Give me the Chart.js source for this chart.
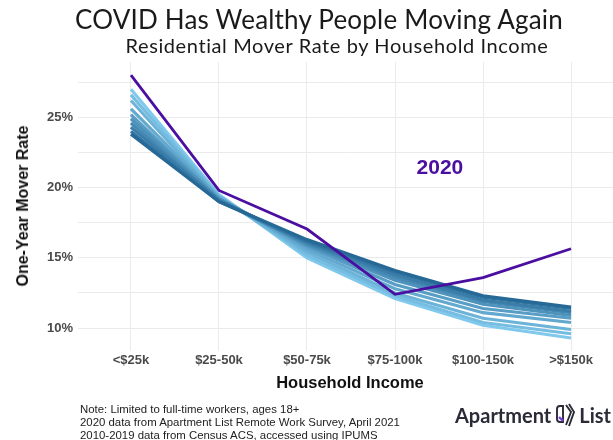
<!DOCTYPE html>
<html>
<head>
<meta charset="utf-8">
<script src="https://cdn.jsdelivr.net/npm/chart.js@4.4.0/dist/chart.umd.min.js"></script>
<style>
  body { margin: 0; background: #fff; }
  #wrap { position: relative; width: 613px; height: 440px; overflow: hidden; font-family: "Liberation Sans", Arial, sans-serif; }
  #chart { position: absolute; left: 0; top: 0; }
  .title { position: absolute; width: 700px; text-align: center; font-family: Lato, sans-serif; color: #1a1a1a; white-space: nowrap; transform: translateX(-50%); }
  #main { left: 319px; top: 3px; font-size: 26px; letter-spacing: 0.2px; }
  #sub { left: 337px; top: 33px; font-size: 20px; letter-spacing: 0.6px; }
  #ytitle { position: absolute; left: 23px; top: 206px; transform: translate(-50%, -50%) rotate(-90deg); font-weight: bold; font-size: 16px; white-space: nowrap; color: #111; }
  #xtitle { position: absolute; left: 350px; top: 373px; transform: translateX(-50%); font-weight: bold; font-size: 16.5px; color: #111; white-space: nowrap; }
  #notes { position: absolute; left: 80px; top: 403px; font-size: 11.4px; line-height: 13px; color: #222; white-space: nowrap; }
  #logo { position: absolute; left: 455px; top: 402px; font-family: Lato, sans-serif; font-weight: bold; font-size: 20px; color: #2b2b38; display: flex; align-items: center; gap: 2px; }
</style>
</head>
<body>
<div id="wrap">
  <canvas id="chart" width="613" height="440"></canvas>
  <div class="title" id="main">COVID Has Wealthy People Moving Again</div>
  <div class="title" id="sub">Residential Mover Rate by Household Income</div>
  <div id="ytitle">One-Year Mover Rate</div>
  <div id="xtitle">Household Income</div>
  <div id="notes">Note: Limited to full-time workers, ages 18+<br>2020 data from Apartment List Remote Work Survey, April 2021<br>2010-2019 data from Census ACS, accessed using IPUMS</div>
  <div id="logo">
    <span>Apartment</span>
    <svg width="24" height="26" viewBox="0 0 24 26">
      <path d="M4 7 Q4 4 7 4 L10 4 L10 20 L7 20 Q4 20 4 17 Z" fill="none" stroke="#2b2b38" stroke-width="1.9"/>
      <path d="M6 15 L10 19" stroke="#7b3fe4" stroke-width="2.4"/>
      <path d="M13 3 L18 10 L13 23" fill="none" stroke="#2b2b38" stroke-width="1.9"/>
      <path d="M16 2 L21 10 L16 24" fill="none" stroke="#2b2b38" stroke-width="1.9"/>
    </svg>
    <span>List</span>
  </div>
</div>
<script>
const incomeBands = ['<$25k', '$25-50k', '$50-75k', '$75-100k', '$100-150k', '>$150k'];
const years = [2010, 2011, 2012, 2013, 2014, 2015, 2016, 2017, 2018, 2019];

// one-year mover rate (%) per income band
const rates2010 = [23.8, 19.0, 16.3, 14.1, 12.3, 11.5];
const rates2011 = [24.0, 19.0, 16.2, 14.0, 12.2, 11.4];
const rates2012 = [24.3, 19.1, 16.1, 13.8, 12.0, 11.2];
const rates2013 = [24.6, 19.1, 16.0, 13.6, 11.9, 11.1];
const rates2014 = [24.9, 19.2, 15.9, 13.4, 11.7, 10.9];
const rates2015 = [25.2, 19.2, 15.8, 13.1, 11.4, 10.7];
const rates2016 = [25.6, 19.3, 15.6, 12.8, 11.1, 10.4];
const rates2017 = [26.2, 19.3, 15.4, 12.5, 10.7, 9.9];
const rates2018 = [26.6, 19.4, 15.2, 12.3, 10.4, 9.6];
const rates2019 = [27.0, 19.5, 15.0, 12.1, 10.2, 9.3];
const rates2020 = [28.0, 19.8, 17.05, 12.4, 13.6, 15.65];

const historic = [rates2010, rates2011, rates2012, rates2013, rates2014,
                  rates2015, rates2016, rates2017, rates2018, rates2019];

const gridValues = [10, 12.5, 15, 17.5, 20, 22.5, 25, 27.5];

// dark blue for 2010 fading to light blue for 2019
function yearColor(i) {
  const t = i / (years.length - 1);
  const dark = [38, 104, 150], light = [128, 200, 236];
  const c = dark.map((d, k) => Math.round(d + (light[k] - d) * t));
  return `rgb(${c[0]},${c[1]},${c[2]})`;
}

const toPoints = arr => arr.map((v, i) => ({ x: i, y: v }));

const datasets = historic.map((arr, i) => ({
  label: String(years[i]),
  data: toPoints(arr),
  borderColor: yearColor(i),
  borderWidth: 3.1,
  pointRadius: 0,
  tension: 0,
  order: 1
}));
// 2020 line sits on top of the blue bundle
datasets.push({
  label: '2020',
  data: toPoints(rates2020),
  borderColor: '#4a0ea0',
  borderWidth: 2.8,
  pointRadius: 0,
  tension: 0,
  order: 0
});

const label2020 = {
  id: 'label2020',
  afterDatasetsDraw(chart) {
    const { ctx, scales } = chart;
    ctx.save();
    ctx.font = 'bold 21px "Liberation Sans", Arial, sans-serif';
    ctx.fillStyle = '#4a0ea0';
    ctx.textAlign = 'center';
    ctx.textBaseline = 'middle';
    ctx.fillText('2020', scales.x.getPixelForValue(3.51), scales.y.getPixelForValue(21.35));
    ctx.restore();
  }
};

const tickFont = { family: '"Liberation Sans", Arial', size: 13, weight: 'bold' };

new Chart(document.getElementById('chart'), {
  type: 'line',
  data: { datasets },
  plugins: [label2020],
  options: {
    responsive: false,
    animation: false,
    layout: { padding: { top: 62, right: 0, left: 0, bottom: 0 } },
    plugins: { legend: { display: false }, tooltip: { enabled: false } },
    scales: {
      x: {
        type: 'linear',
        min: -0.602,
        max: 5.477,
        afterBuildTicks: scale => { scale.ticks = incomeBands.map((_, i) => ({ value: i })); },
        afterFit: scale => { scale.height = 89; },
        border: { display: false },
        grid: { color: '#ebebeb', drawTicks: false },
        ticks: {
          padding: 2,
          color: '#4a4a4a',
          font: tickFont,
          callback: v => incomeBands[v]
        }
      },
      y: {
        min: 8.37,
        max: 28.94,
        afterBuildTicks: scale => { scale.ticks = gridValues.map(v => ({ value: v })); },
        afterFit: scale => { scale.width = 78; },
        border: { display: false },
        grid: { color: '#ebebeb', drawTicks: false },
        ticks: {
          padding: 5,
          color: '#4a4a4a',
          font: tickFont,
          callback: v => (v % 5 === 0 ? v + '%' : '')
        }
      }
    }
  }
});
</script>
</body>
</html>
